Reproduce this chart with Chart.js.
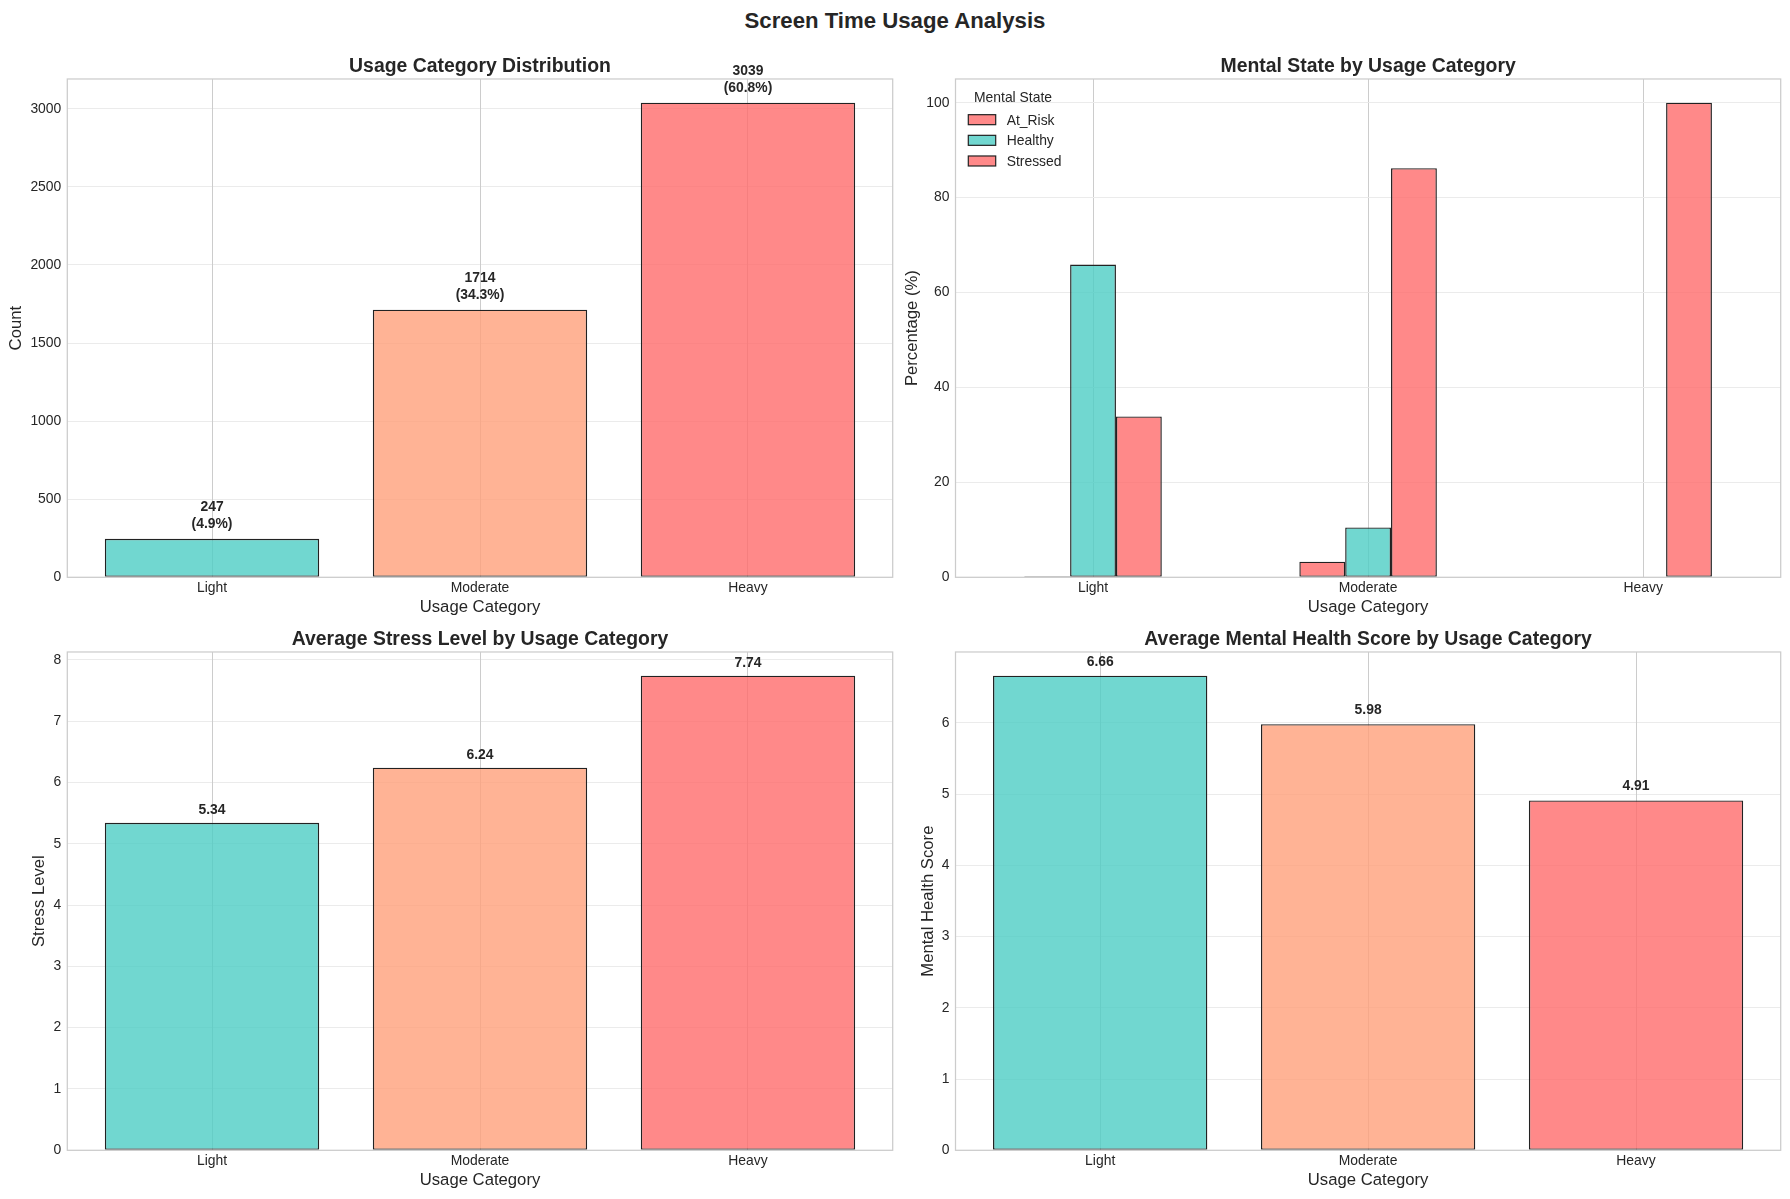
<!DOCTYPE html>
<html>
<head>
<meta charset="utf-8">
<script src="https://cdn.jsdelivr.net/npm/chart.js@4.4.1/dist/chart.umd.min.js"></script>
<style>
  html, body { margin: 0; padding: 0; background: #fff; overflow: hidden; }
  body { width: 1790px; height: 1199px; position: relative; }
  canvas { position: absolute; }
  #suptitle {
    position: absolute; left: 0; width: 1790px; top: 8px; text-align: center;
    font: bold 22.2px 'Liberation Sans', Arial, sans-serif; color: #262626;
  }
</style>
</head>
<body>
<div id="suptitle">Screen Time Usage Analysis</div>
<canvas id="countChart" width="900" height="590" style="left:0px;top:36px"></canvas>
<canvas id="stateChart" width="895" height="590" style="left:895px;top:36px"></canvas>
<canvas id="stressChart" width="900" height="590" style="left:0px;top:609px"></canvas>
<canvas id="healthChart" width="895" height="590" style="left:895px;top:609px"></canvas>
<script>
// data
const usageCategories = ['Light', 'Moderate', 'Heavy'];
const usageCounts = [247, 1714, 3039];
const usagePercents = ['4.9%', '34.3%', '60.8%'];
const countTicks = [0, 500, 1000, 1500, 2000, 2500, 3000];

const mentalStates = ['At_Risk', 'Healthy', 'Stressed'];
const atRiskPct = [0.2, 3.3, 0];
const healthyPct = [65.9, 10.5, 0];
const stressedPct = [33.9, 86.2, 100];
const percentTicks = [0, 20, 40, 60, 80, 100];

const avgStress = [5.34, 6.24, 7.74];
const stressTicks = [0, 1, 2, 3, 4, 5, 6, 7, 8];

const avgMentalHealth = [6.66, 5.98, 4.91];
const healthTicks = [0, 1, 2, 3, 4, 5, 6];

const TEAL = 'rgba(78, 205, 196, 0.8)';
const SALMON = 'rgba(255, 160, 122, 0.8)';
const RED = 'rgba(255, 107, 107, 0.8)';
const barColors = [TEAL, SALMON, RED];
const stateColors = [RED, TEAL, RED];

Chart.defaults.font.family = "'Liberation Sans', Arial, sans-serif";
Chart.defaults.color = '#262626';
Chart.defaults.animation = false;

// matplotlib style box around the axes
const framePlugin = {
  id: 'frame',
  afterDatasetsDraw(chart) {
    const { ctx, chartArea: a } = chart;
    ctx.save();
    ctx.strokeStyle = '#cccccc';
    ctx.lineWidth = 1.25;
    ctx.strokeRect(a.left, a.top, a.right - a.left, a.bottom - a.top);
    ctx.restore();
  }
};

// bold value labels above each bar
const valueLabels = {
  id: 'valueLabels',
  afterDatasetsDraw(chart, args, opts) {
    if (!opts.lines) return;
    const { ctx } = chart;
    const yScale = chart.scales.y;
    const meta = chart.getDatasetMeta(0);
    const values = chart.data.datasets[0].data.map(d => d.y);
    ctx.save();
    ctx.font = "bold 13.9px 'Liberation Sans', Arial, sans-serif";
    ctx.fillStyle = '#262626';
    ctx.textAlign = 'center';
    ctx.textBaseline = 'alphabetic';
    meta.data.forEach((bar, i) => {
      const lines = opts.lines(i);
      let y = yScale.getPixelForValue(values[i] + opts.offset) - 3;
      for (let k = lines.length - 1; k >= 0; k--) {
        ctx.fillText(lines[k], bar.x, y);
        y -= 16.7;
      }
    });
    ctx.restore();
  }
};

function yAxis(yMax, tickValues, yTitle, yTitleCenter, yWidth) {
  return {
    min: 0, max: yMax,
    afterFit(scale) { scale.width = yWidth; },
    afterBuildTicks(scale) { scale.ticks = tickValues.map(v => ({ value: v })); },
    border: { display: false },
    grid: { color: '#ebebeb', lineWidth: 1, drawTicks: false },
    ticks: {
      padding: 6, font: { size: 13.9 },
      callback: v => String(v)
    },
    title: {
      display: true, text: yTitle, font: { size: 16.7 },
      padding: { top: yTitleCenter - 10, bottom: 0 }
    }
  };
}

function xAxisCommon() {
  return {
    offset: false,
    afterFit(scale) { scale.height = 48.7; },
    afterBuildTicks(scale) { scale.ticks = [0, 1, 2].map(v => ({ value: v })); },
    border: { display: false },
    grid: { color: '#cccccc', lineWidth: 1, drawTicks: false, offset: false },
    ticks: {
      padding: 3, font: { size: 13.9 }, maxRotation: 0, autoSkip: false,
      callback: v => usageCategories[v]
    },
    title: {
      display: true, text: 'Usage Category', font: { size: 16.7 },
      padding: { top: 0, bottom: 8.7 }
    }
  };
}

function titleOpts(text) {
  return {
    display: true, text, fullSize: false, color: '#262626',
    font: { size: 19.4, weight: 'bold', lineHeight: 1.2 },
    padding: { top: 19.4, bottom: 0.3 }
  };
}

function simpleBarChart(id, values, opt) {
  const scales = {
    y: yAxis(opt.yMax, opt.yTicks, opt.yTitle, opt.yTitleCenter, opt.yWidth),
    x: Object.assign(xAxisCommon(), { type: 'linear', min: -0.54, max: 2.54 })
  };
  return new Chart(document.getElementById(id), {
    type: 'bar',
    data: {
      datasets: [{
        data: values.map((v, i) => ({ x: i, y: v })),
        backgroundColor: barColors,
        borderColor: '#222222',
        borderWidth: 1.4,
        borderSkipped: false,
        categoryPercentage: 0.8,
        barPercentage: 1.0
      }]
    },
    options: {
      responsive: false,
      layout: { padding: { left: 0, right: opt.rightPad, top: 0, bottom: 0 } },
      scales,
      plugins: {
        legend: { display: false },
        tooltip: { enabled: false },
        title: titleOpts(opt.title),
        valueLabels: { lines: opt.lines, offset: opt.offset }
      }
    },
    plugins: [framePlugin, valueLabels]
  });
}

simpleBarChart('countChart', usageCounts, {
  title: 'Usage Category Distribution', yTitle: 'Count', yTitleCenter: 16,
  yMax: 3039 * 1.05, yTicks: countTicks, yWidth: 67.3, rightPad: 7.3, offset: 50,
  lines: i => [String(usageCounts[i]), '(' + usagePercents[i] + ')']
});

simpleBarChart('stressChart', avgStress, {
  title: 'Average Stress Level by Usage Category', yTitle: 'Stress Level', yTitleCenter: 39,
  yMax: 7.74 * 1.05, yTicks: stressTicks, yWidth: 67.3, rightPad: 7.3, offset: 0.1,
  lines: i => [avgStress[i].toFixed(2)]
});

simpleBarChart('healthChart', avgMentalHealth, {
  title: 'Average Mental Health Score by Usage Category', yTitle: 'Mental Health Score', yTitleCenter: 33,
  yMax: 6.66 * 1.05, yTicks: healthTicks, yWidth: 60.5, rightPad: 9.3, offset: 0.1,
  lines: i => [avgMentalHealth[i].toFixed(2)]
});

// legend drawn inside the axes, top-left, like matplotlib's
const stateLegend = {
  id: 'stateLegend',
  afterDatasetsDraw(chart) {
    const { ctx, chartArea: a } = chart;
    ctx.save();
    ctx.fillStyle = '#262626';
    ctx.font = "13.9px 'Liberation Sans', Arial, sans-serif";
    ctx.textAlign = 'center';
    ctx.textBaseline = 'middle';
    ctx.fillText('Mental State', a.left + 57.5, a.top + 19.3);
    ctx.textAlign = 'left';
    chart.data.datasets.forEach((ds, i) => {
      const cy = a.top + 40.7 + i * 20.65;
      ctx.fillStyle = ds.backgroundColor;
      ctx.fillRect(a.left + 12.8, cy - 5, 27.4, 10);
      ctx.strokeStyle = '#222222';
      ctx.lineWidth = 1.2;
      ctx.strokeRect(a.left + 12.8, cy - 5, 27.4, 10);
      ctx.fillStyle = '#262626';
      ctx.fillText(ds.label, a.left + 51.2, cy + 1);
    });
    ctx.restore();
  }
};

const stateX = Object.assign(xAxisCommon(), { type: 'category', offset: true });
stateX.ticks.callback = function (v) { return this.getLabelForValue(v); };

new Chart(document.getElementById('stateChart'), {
  type: 'bar',
  data: {
    labels: usageCategories,
    datasets: [atRiskPct, healthyPct, stressedPct].map((vals, i) => ({
      label: mentalStates[i],
      data: vals,
      backgroundColor: stateColors[i],
      borderColor: '#222222',
      borderWidth: 1.4,
      borderSkipped: false,
      categoryPercentage: 0.5,
      barPercentage: 1.0
    }))
  },
  options: {
    responsive: false,
    layout: { padding: { left: 0, right: 9.3, top: 0, bottom: 0 } },
    scales: {
      x: stateX,
      y: yAxis(105, percentTicks, 'Percentage (%)', 17, 60.5)
    },
    plugins: {
      legend: { display: false },
      tooltip: { enabled: false },
      title: titleOpts('Mental State by Usage Category')
    }
  },
  plugins: [framePlugin, stateLegend]
});
</script>
</body>
</html>
